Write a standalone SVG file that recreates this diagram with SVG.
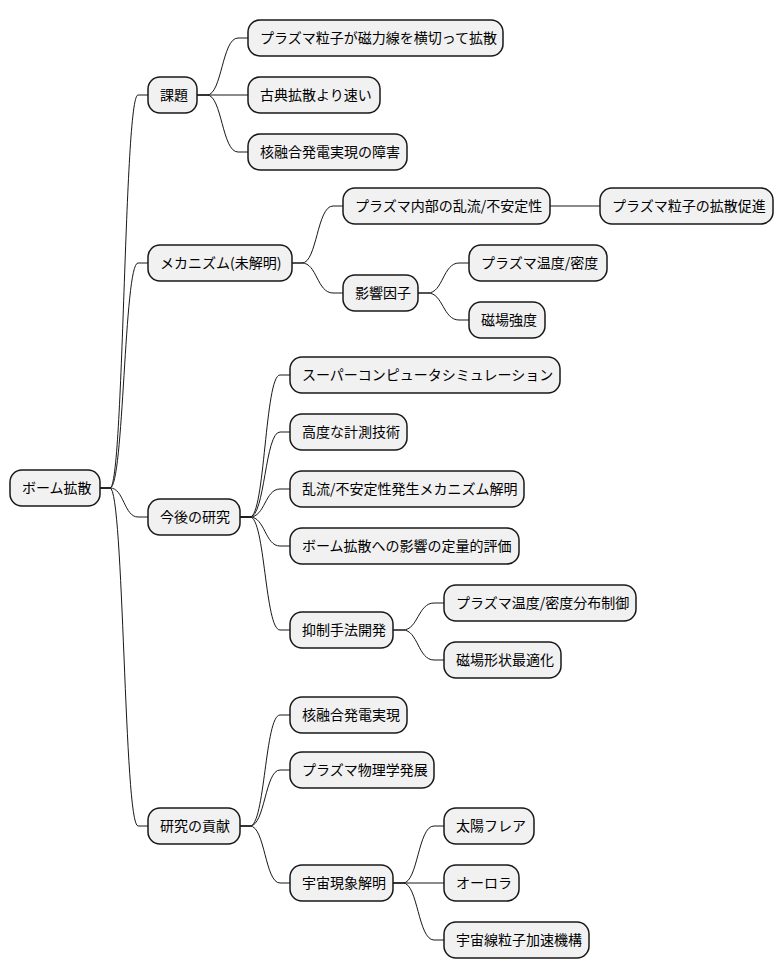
<svg xmlns="http://www.w3.org/2000/svg" width="784" height="978" viewBox="0 0 784 978">
<style>
.n rect{fill:#f1f1f1;stroke:#181818;stroke-width:1.5}
.n text{font-family:"Noto Sans CJK JP","Liberation Sans",sans-serif;font-size:14px;fill:#000}
#c path{fill:none;stroke:#181818;stroke-width:1}
</style>
<rect width="784" height="978" fill="#fff"/>
<g id="c">
<path d="M100 488 L110 488 C124 488 124 95 138 95 L148 95"/>
<path d="M100 488 L110 488 C124 488 124 263 138 263 L148 263"/>
<path d="M100 488 L110 488 C124 488 124 517 138 517 L148 517"/>
<path d="M100 488 L110 488 C124 488 124 826 138 826 L148 826"/>
<path d="M197 95 L207 95 C222 95 222 38 238 38 L248 38"/>
<path d="M197 95 L248 95"/>
<path d="M197 95 L207 95 C222 95 222 152 238 152 L248 152"/>
<path d="M292 263 L302 263 C317 263 317 206 333 206 L343 206"/>
<path d="M292 263 L302 263 C317 263 317 293 333 293 L343 293"/>
<path d="M550 206 L600 206"/>
<path d="M418 293 L428 293 C443 293 443 263 459 263 L469 263"/>
<path d="M418 293 L428 293 C443 293 443 320 459 320 L469 320"/>
<path d="M240 517 L250 517 C265 517 265 375 280 375 L290 375"/>
<path d="M240 517 L250 517 C265 517 265 432 280 432 L290 432"/>
<path d="M240 517 L250 517 C265 517 265 489 280 489 L290 489"/>
<path d="M240 517 L250 517 C265 517 265 546 280 546 L290 546"/>
<path d="M240 517 L250 517 C265 517 265 630 280 630 L290 630"/>
<path d="M393 630 L403 630 C418 630 418 603 434 603 L444 603"/>
<path d="M393 630 L403 630 C418 630 418 660 434 660 L444 660"/>
<path d="M240 826 L250 826 C265 826 265 715 280 715 L290 715"/>
<path d="M240 826 L250 826 C265 826 265 770 280 770 L290 770"/>
<path d="M240 826 L250 826 C265 826 265 883 280 883 L290 883"/>
<path d="M393 883 L403 883 C418 883 418 826 434 826 L444 826"/>
<path d="M393 883 L444 883"/>
<path d="M393 883 L403 883 C418 883 418 940 434 940 L444 940"/>
</g>
<g id="root" class="n"><rect x="10" y="470" width="90" height="36" rx="12"/><text x="22" y="493">ボーム拡散</text></g>
<g id="n1" class="n"><rect x="148" y="77" width="49" height="36" rx="12"/><text x="160" y="100">課題</text></g>
<g id="n2" class="n"><rect x="148" y="245" width="144" height="36" rx="12"/><text x="160" y="268">メカニズム(未解明)</text></g>
<g id="n3" class="n"><rect x="148" y="499" width="92" height="36" rx="12"/><text x="160" y="522">今後の研究</text></g>
<g id="n4" class="n"><rect x="148" y="808" width="92" height="36" rx="12"/><text x="160" y="831">研究の貢献</text></g>
<g id="n11" class="n"><rect x="248" y="20" width="255" height="36" rx="12"/><text x="260" y="43">プラズマ粒子が磁力線を横切って拡散</text></g>
<g id="n12" class="n"><rect x="248" y="77" width="132" height="36" rx="12"/><text x="260" y="100">古典拡散より速い</text></g>
<g id="n13" class="n"><rect x="248" y="134" width="159" height="36" rx="12"/><text x="260" y="157">核融合発電実現の障害</text></g>
<g id="n21" class="n"><rect x="343" y="188" width="207" height="36" rx="12"/><text x="355" y="211">プラズマ内部の乱流/不安定性</text></g>
<g id="n211" class="n"><rect x="600" y="188" width="173" height="36" rx="12"/><text x="612" y="211">プラズマ粒子の拡散促進</text></g>
<g id="n22" class="n"><rect x="343" y="275" width="75" height="36" rx="12"/><text x="355" y="298">影響因子</text></g>
<g id="n221" class="n"><rect x="469" y="245" width="138" height="36" rx="12"/><text x="481" y="268">プラズマ温度/密度</text></g>
<g id="n222" class="n"><rect x="469" y="302" width="76" height="36" rx="12"/><text x="481" y="325">磁場強度</text></g>
<g id="n31" class="n"><rect x="290" y="357" width="270" height="36" rx="12"/><text x="302" y="380">スーパーコンピュータシミュレーション</text></g>
<g id="n32" class="n"><rect x="290" y="414" width="117" height="36" rx="12"/><text x="302" y="437">高度な計測技術</text></g>
<g id="n33" class="n"><rect x="290" y="471" width="234" height="36" rx="12"/><text x="302" y="494">乱流/不安定性発生メカニズム解明</text></g>
<g id="n34" class="n"><rect x="290" y="528" width="229" height="36" rx="12"/><text x="302" y="551">ボーム拡散への影響の定量的評価</text></g>
<g id="n35" class="n"><rect x="290" y="612" width="103" height="36" rx="12"/><text x="302" y="635">抑制手法開発</text></g>
<g id="n351" class="n"><rect x="444" y="585" width="192" height="36" rx="12"/><text x="456" y="608">プラズマ温度/密度分布制御</text></g>
<g id="n352" class="n"><rect x="444" y="642" width="117" height="36" rx="12"/><text x="456" y="665">磁場形状最適化</text></g>
<g id="n41" class="n"><rect x="290" y="697" width="117" height="36" rx="12"/><text x="302" y="720">核融合発電実現</text></g>
<g id="n42" class="n"><rect x="290" y="752" width="144" height="36" rx="12"/><text x="302" y="775">プラズマ物理学発展</text></g>
<g id="n43" class="n"><rect x="290" y="865" width="103" height="36" rx="12"/><text x="302" y="888">宇宙現象解明</text></g>
<g id="n431" class="n"><rect x="444" y="808" width="90" height="36" rx="12"/><text x="456" y="831">太陽フレア</text></g>
<g id="n432" class="n"><rect x="444" y="865" width="75" height="36" rx="12"/><text x="456" y="888">オーロラ</text></g>
<g id="n433" class="n"><rect x="444" y="922" width="145" height="36" rx="12"/><text x="456" y="945">宇宙線粒子加速機構</text></g>
</svg>
